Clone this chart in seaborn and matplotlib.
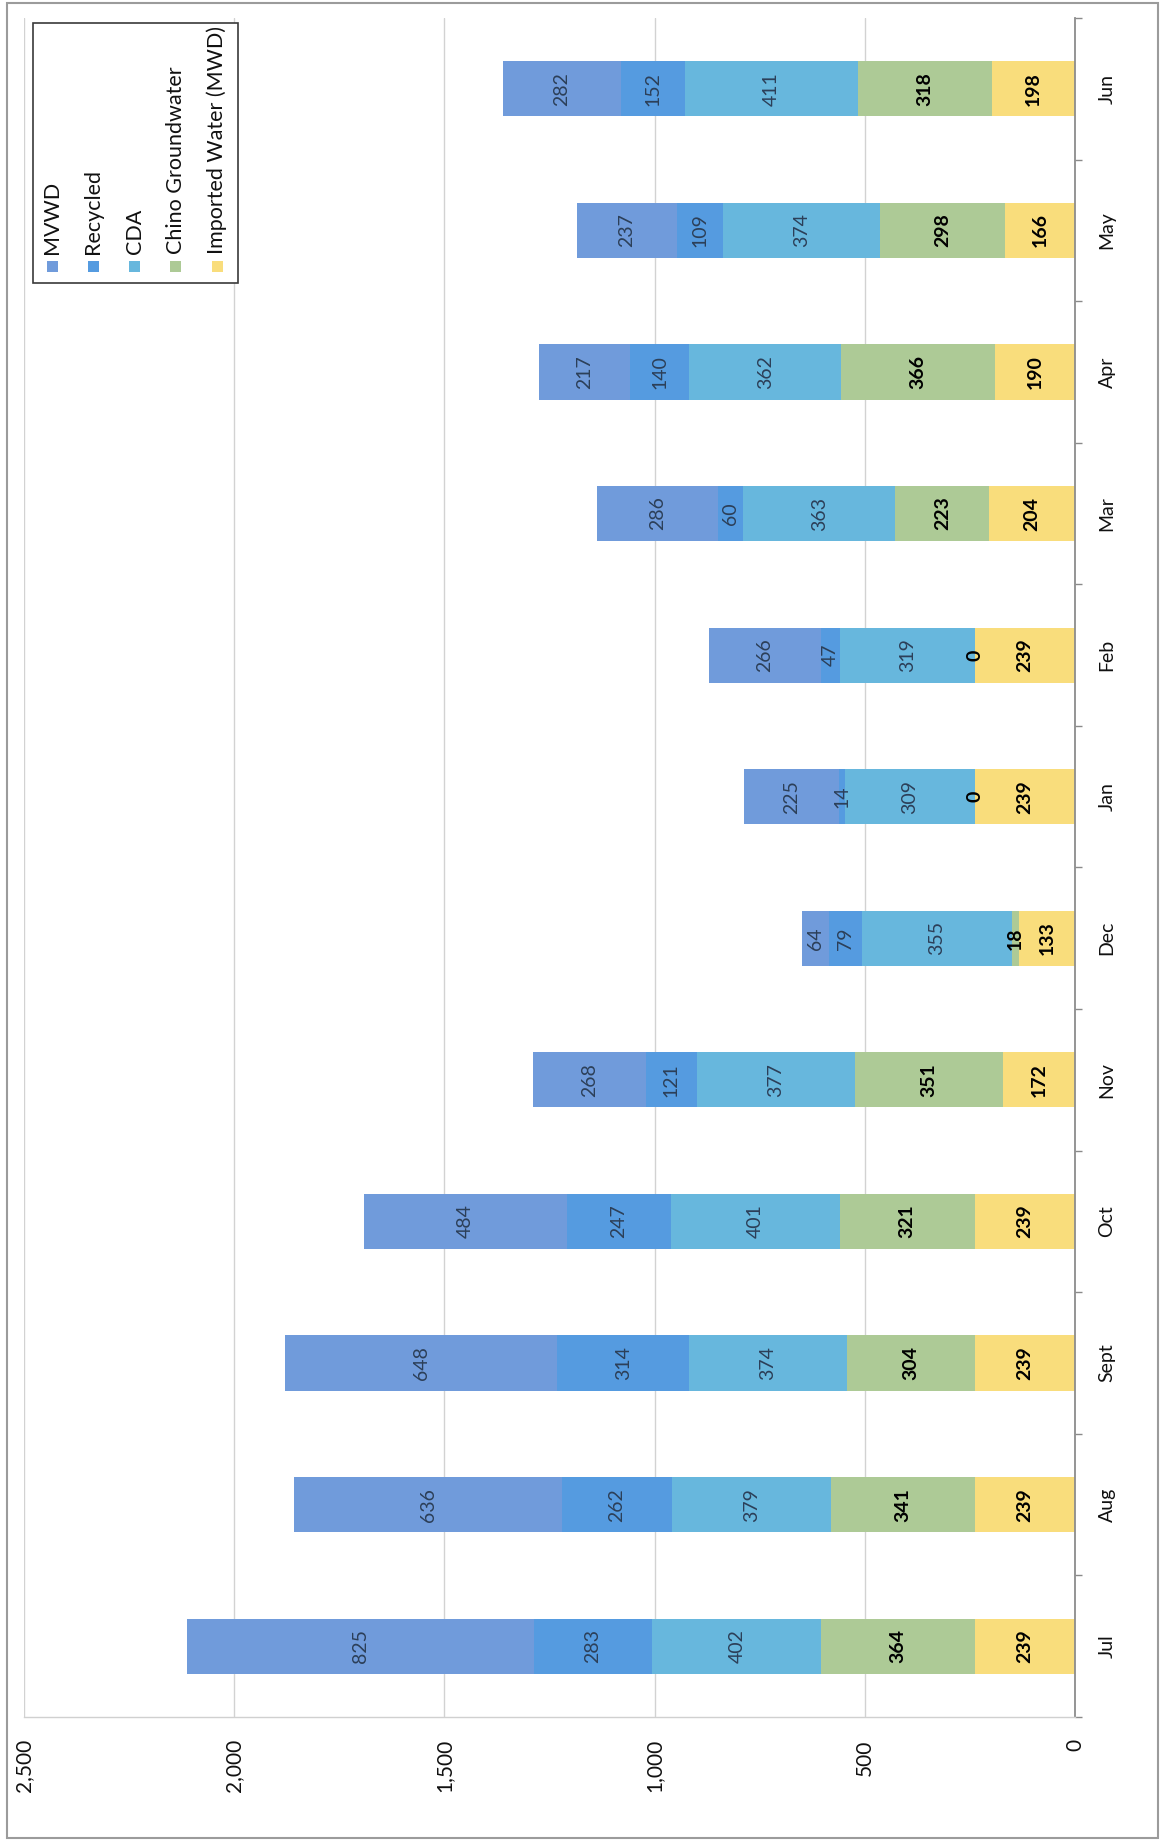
import numpy as np
import pandas as pd
import matplotlib
matplotlib.use("Agg")
import matplotlib.pyplot as plt
import seaborn as sns
from matplotlib.patches import Rectangle
from matplotlib.ticker import FuncFormatter

# Monthly water supply by source (acre-feet)
months = ["Jul", "Aug", "Sept", "Oct", "Nov", "Dec", "Jan", "Feb", "Mar", "Apr", "May", "Jun"]
imported = [239, 239, 239, 239, 172, 133, 239, 239, 204, 190, 166, 198]
chino = [364, 341, 304, 321, 351, 18, 0, 0, 223, 366, 298, 318]
cda = [402, 379, 374, 401, 377, 355, 309, 319, 363, 362, 374, 411]
recycled = [283, 262, 314, 247, 121, 79, 14, 47, 60, 140, 109, 152]
mvwd = [825, 636, 648, 484, 268, 64, 225, 266, 286, 217, 237, 282]

value_ticks = [0, 500, 1000, 1500, 2000, 2500]

# stacking order, starting from the axis
stack = [
    ("Imported Water (MWD)", imported, "#f9dd7c", "#000000", "bold"),
    ("Chino Groundwater", chino, "#adca96", "#000000", "bold"),
    ("CDA", cda, "#67b7dd", "#2c3f58", "normal"),
    ("Recycled", recycled, "#559be0", "#2c3f58", "normal"),
    ("MVWD", mvwd, "#709bdb", "#2c3f58", "normal"),
]
legend_order = ["MVWD", "Recycled", "CDA", "Chino Groundwater", "Imported Water (MWD)"]

W, H = 1162, 1841
sns.set_theme(style="white")
plt.rcParams["font.family"] = ["Lato", "DejaVu Sans"]

fig = plt.figure(figsize=(W / 100, H / 100), dpi=100)
ax = fig.add_axes([24 / W, 1 - 1717 / H, (1075 - 24) / W, (1717 - 18) / H])

df = pd.DataFrame({"month": months})
running = np.zeros(len(months))
lefts = {}
for name, vals, _, _, _ in stack:
    lefts[name] = running.copy()
    running = running + np.array(vals)
    df[name + "_cum"] = running

order = months[::-1]  # Jun at top, Jul at bottom
for name, vals, color, _, _ in reversed(stack):
    sns.barplot(data=df, y="month", x=name + "_cum", order=order, orient="h",
                color=color, saturation=1, width=0.39, linewidth=0, ax=ax)

# segment value labels
for name, vals, _, tcolor, weight in stack:
    for m, v, left in zip(months, vals, lefts[name]):
        ypos = order.index(m)
        ax.text(left + v / 2, ypos, f"{v}", rotation=90, ha="center", va="center",
                fontsize=14, color=tcolor, fontweight=weight, zorder=5)

ax.set_xlim(2500, 0)
ax.set_ylim(11.5, -0.5)
ax.set_xlabel("")
ax.set_ylabel("")

ax.set_xticks(value_ticks)
ax.xaxis.set_major_formatter(FuncFormatter(lambda v, p: f"{int(v):,}"))
ax.tick_params(axis="x", length=0, pad=16, labelsize=15, labelrotation=90, colors="#111111")

ax.yaxis.tick_right()
ax.set_yticks(range(len(order)))
ax.set_yticklabels(order)
ax.set_yticks(np.arange(-0.5, len(order), 1), minor=True)
ax.tick_params(axis="y", which="major", length=0, pad=17, labelsize=14, labelrotation=90,
               colors="#111111")
ax.tick_params(axis="y", which="minor", length=5, width=1, color="#8a8a8a", direction="out")
for lbl in ax.get_yticklabels():
    lbl.set_va("center")

ax.grid(axis="x", color="#d2d2d2", linewidth=1)
ax.grid(axis="y", visible=False)
ax.set_axisbelow(True)
for side in ["left", "top"]:
    ax.spines[side].set_visible(False)
ax.spines["right"].set_color("#8c8c8c")
ax.spines["right"].set_linewidth(1.3)
ax.spines["bottom"].set_color("#d0d0d0")
ax.spines["bottom"].set_linewidth(1)

# chart area border
fig.add_artist(Rectangle((7 / W, 1 - 1838 / H), (1158 - 7) / W, (1838 - 3) / H,
                         transform=fig.transFigure, fill=False,
                         edgecolor="#9b9b9b", linewidth=1.5))

# legend drawn with vertical text
fig.add_artist(Rectangle((33 / W, 1 - 283 / H), (238 - 33) / W, (283 - 23) / H,
                         transform=fig.transFigure, facecolor="white",
                         edgecolor="#3a3a3a", linewidth=1.2, zorder=10))
colors_by_name = {s[0]: s[2] for s in stack}
for i, name in enumerate(legend_order):
    xc = 52 + i * 41.3
    fig.add_artist(Rectangle(((xc - 5.5) / W, 1 - 272 / H), 11 / W, 11 / H,
                             transform=fig.transFigure, facecolor=colors_by_name[name],
                             edgecolor="none", zorder=11))
    fig.text(xc / W, 1 - 254 / H, name, rotation=90, ha="center", va="bottom",
             fontsize=15.5, color="#111111", zorder=12)

fig.savefig("out.png", dpi=100)
